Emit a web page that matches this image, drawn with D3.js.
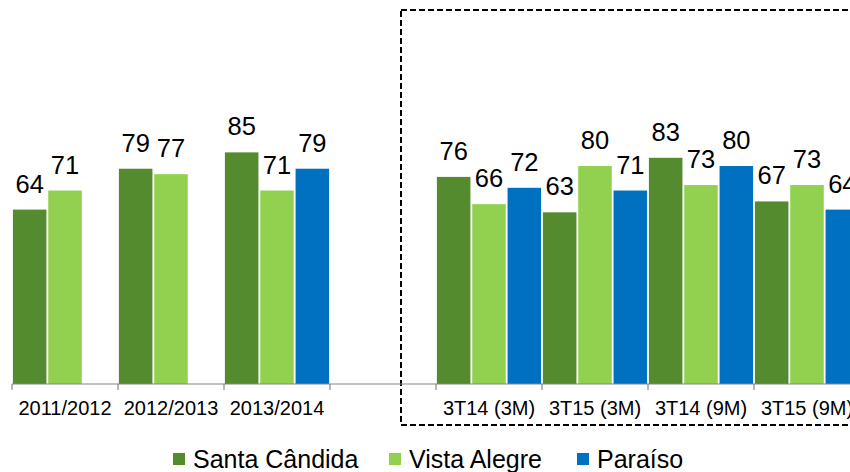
<!DOCTYPE html>
<html>
<head>
<meta charset="utf-8">
<script src="https://cdn.jsdelivr.net/npm/d3@7"></script>
<style>
  html, body { margin: 0; padding: 0; background: #fff; }
  svg { display: block; font-family: "Liberation Sans", Arial, sans-serif; }
</style>
</head>
<body>
<svg id="chart" width="850" height="472"></svg>
<script>
const categories = ["2011/2012", "2012/2013", "2013/2014", "", "3T14 (3M)", "3T15 (3M)", "3T14 (9M)", "3T15 (9M)"];
const seriesNames = ["Santa Cândida", "Vista Alegre", "Paraíso"];
const santaCandida = [64, 79, 85, null, 76, 63, 83, 67];
const vistaAlegre = [71, 77, 71, null, 66, 80, 73, 73];
const paraiso = [null, null, 79, null, 72, 71, 80, 64];
const seriesColors = ["#538B2E", "#92D050", "#0070C0"];

const seriesValues = [santaCandida, vistaAlegre, paraiso];
const svg = d3.select("#chart");

const x0 = d3.scaleBand().domain(categories).range([12, 860]).padding(0);
const x1 = d3.scaleBand().domain(seriesNames).range([0, x0.bandwidth()]).padding(0);
const y = d3.scaleLinear().domain([0, 100]).range([384, 111.5]);

// dashed highlight box
svg.append("rect")
  .attr("x", 401).attr("y", 10)
  .attr("width", 520).attr("height", 415)
  .attr("fill", "none")
  .attr("stroke", "#000")
  .attr("stroke-width", 2)
  .attr("stroke-dasharray", "6,3");

// bars
const rows = [];
categories.forEach((c, i) => {
  seriesNames.forEach((s, j) => {
    const v = seriesValues[j][i];
    if (v != null) rows.push({ c, s, v, j });
  });
});

svg.append("g").selectAll("rect")
  .data(rows).join("rect")
  .attr("x", d => x0(d.c) + x1(d.s) + 0.9)
  .attr("y", d => y(d.v))
  .attr("width", x1.bandwidth() - 1.8)
  .attr("height", d => y(0) - y(d.v))
  .attr("fill", d => seriesColors[d.j]);

// value labels
svg.append("g").selectAll("text")
  .data(rows).join("text")
  .attr("x", d => x0(d.c) + x1(d.s) + x1.bandwidth() / 2)
  .attr("y", d => y(d.v) - 17)
  .attr("text-anchor", "middle")
  .attr("font-size", 25.5)
  .attr("fill", "#000")
  .text(d => d.v);

// axis
const axisG = svg.append("g").attr("transform", `translate(0,${y(0)})`);
axisG.append("line")
  .attr("x1", 12).attr("x2", 860)
  .attr("y1", 0).attr("y2", 0)
  .attr("stroke", "#868686").attr("stroke-width", 1.2);
const boundaries = categories.map(c => x0(c)).concat([x0.range()[1]]);
axisG.selectAll("line.tick")
  .data(boundaries).join("line")
  .attr("class", "tick")
  .attr("x1", d => d).attr("x2", d => d)
  .attr("y1", 0).attr("y2", 6)
  .attr("stroke", "#868686").attr("stroke-width", 1.2);
axisG.selectAll("text")
  .data(categories).join("text")
  .attr("x", d => x0(d) + x0.bandwidth() / 2)
  .attr("y", 31)
  .attr("text-anchor", "middle")
  .attr("font-size", 20)
  .attr("fill", "#000")
  .text(d => d);

// legend
const legendX = [173, 389, 577];
const lg = svg.append("g");
seriesNames.forEach((s, j) => {
  lg.append("rect")
    .attr("x", legendX[j]).attr("y", 453)
    .attr("width", 12).attr("height", 12)
    .attr("fill", seriesColors[j]);
  lg.append("text")
    .attr("x", legendX[j] + 20).attr("y", 468)
    .attr("font-size", 25)
    .attr("fill", "#000")
    .text(s);
});
</script>
</body>
</html>
